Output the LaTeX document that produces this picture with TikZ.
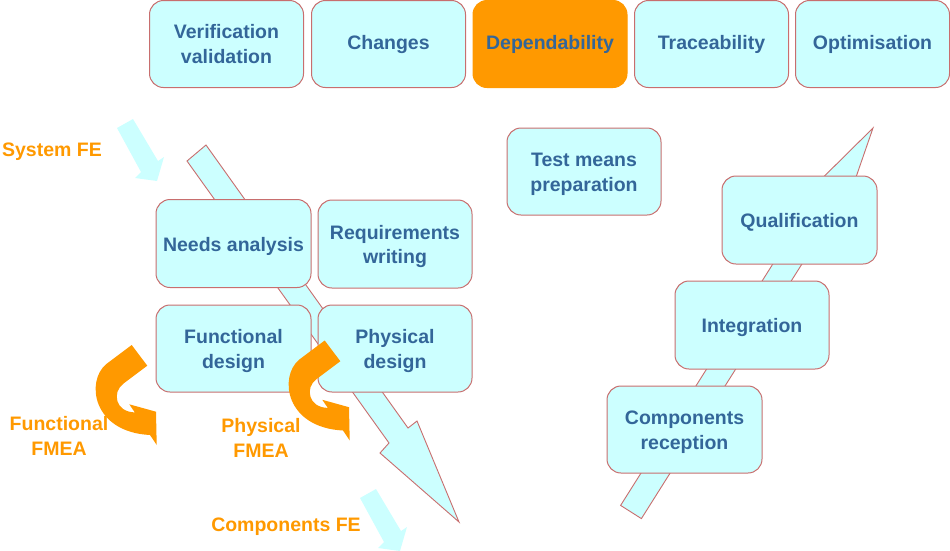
\documentclass[tikz,border=0pt]{standalone}
\usepackage{fontspec}
\setmainfont{Liberation Sans}
\definecolor{boxfill}{HTML}{CCFFFF}
\definecolor{boxline}{HTML}{C86E6E}
\definecolor{txtblue}{HTML}{336699}
\definecolor{orng}{HTML}{FF9900}
\newcommand{\tstrut}{\rule{0pt}{19.5pt}}
\begin{document}
\begin{tikzpicture}[x=1pt,y=-1pt,
  topbox/.style={draw=boxline, line width=1pt, fill=boxfill, rounded corners=14pt,
    minimum width=154pt, minimum height=87pt, align=center, text=txtblue,
    font=\fontsize{19.5}{24.5}\selectfont\bfseries, inner sep=0pt},
  box/.style={topbox, execute at begin node={\tstrut}},
  hibox/.style={topbox, fill=orng, draw=orng},
  bigarrow/.style={draw=boxline, line width=0.9pt, fill=boxfill, line join=miter},
  smallarrow/.style={fill=boxfill},
  olabel/.style={text=orng, align=center, inner sep=0pt,
    font=\fontsize{19.5}{25}\selectfont\bfseries},
  fmea/.pic={\fill[orng] (131.7,345) -- (106,364.3) .. controls (86,381) and (92,432) .. (150,435)
      -- (156.7,445) -- (156,411.7) -- (129.3,404.3) -- (134.8,412.4)
      .. controls (115,412) and (112,392) .. (123.3,383.7) -- (147.3,365.7) -- cycle;}]
\useasboundingbox (0,0) rectangle (950,550);

% cyan arrows (behind boxes)
\draw[bigarrow] (187,161) -- (389,443) -- (380,453) -- (459,522) -- (417,421) -- (408,428) -- (206,145) -- cycle;
\draw[bigarrow] (620.6,505.4) -- (806.6,210.4) -- (796.3,203.9) -- (873,128) -- (837.7,230.1) -- (827.4,223.6) -- (641.4,518.6) -- cycle;
\fill[smallarrow] (117,128) -- (141,172) -- (135,178) -- (157,181) -- (164,157) -- (158,161) -- (133,119) -- cycle;
\fill[smallarrow] (360,498) -- (384,542) -- (378,548) -- (400,551) -- (407,527) -- (401,531) -- (376,489) -- cycle;

% top row
\node[topbox] (ver) at (226.5,44) {Verification\\validation};
\node[topbox] (chg) at (388.5,44) {Changes};
\node[hibox] (dep) at (550,44) {Dependability};
\node[topbox] (tra) at (711.5,44) {Traceability};
\node[topbox] (opt) at (872.5,44) {Optimisation};

% left V branch
\node[box, minimum width=155pt, minimum height=88pt] (needs) at (233.5,243.5) {Needs analysis};
\node[box, minimum height=88pt] (req) at (395,244) {\tstrut Requirements\\writing};
\node[box, minimum width=155pt] (func) at (233.5,348.5) {\tstrut Functional\\design};
\node[box] (phys) at (395,348.5) {\tstrut Physical\\design};

% right branch
\node[box] (test) at (584,171.5) {\tstrut Test means\\preparation};
\node[box, minimum width=155pt, minimum height=88pt] (qual) at (799.5,220) {Qualification};
\node[box, minimum height=88pt] (integ) at (752,325) {Integration};
\node[box, minimum width=155pt] (comp) at (684.5,429.5) {\tstrut Components\\reception};

% orange FMEA arrows
\pic at (0,0) {fmea};
\pic at (193,-4.5) {fmea};

% labels
\node[olabel] (sysfe) at (52,151.5) {System FE};
\node[olabel] (compfe) at (286,527) {Components FE};
\node[olabel] (ffmea) at (59,436) {Functional\\FMEA};
\node[olabel] (pfmea) at (261,438) {Physical\\FMEA};
\end{tikzpicture}
\end{document}
